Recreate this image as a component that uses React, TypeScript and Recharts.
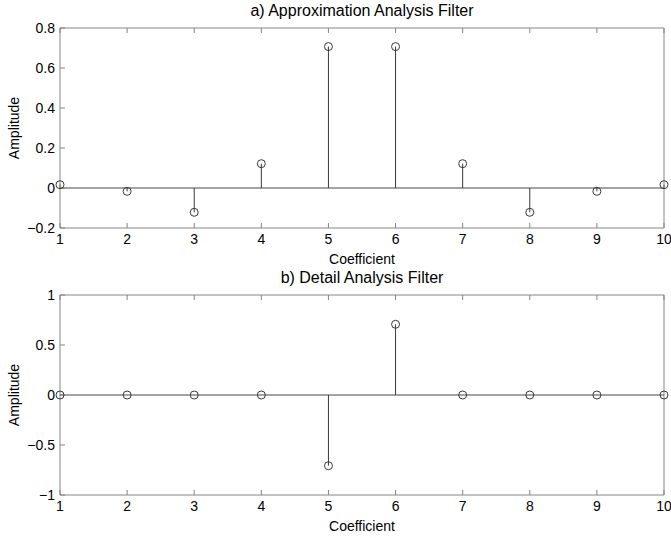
import { ComposedChart, Scatter, XAxis, YAxis, ReferenceLine, Label } from "recharts"

// filter taps (bior1.5 decomposition filters)
const coefficients = [1, 2, 3, 4, 5, 6, 7, 8, 9, 10]
const approxValues = [0.0166, -0.0166, -0.1215, 0.1215, 0.7071, 0.7071, 0.1215, -0.1215, -0.0166, 0.0166]
const detailValues = [0, 0, 0, 0, -0.7071, 0.7071, 0, 0, 0, 0]
const approxTicks = [-0.2, 0, 0.2, 0.4, 0.6, 0.8]
const detailTicks = [-1, -0.5, 0, 0.5, 1]

const AXIS = "#858585"
const STEM = "#3a3a3a"
const FONT = "'Liberation Sans', Arial, sans-serif"

const fmt = (v: number) => (v < 0 ? "\u2212" + Math.abs(v) : String(v))
const blank = () => ""

interface StemPlotProps {
  title: string
  values: number[]
  ticks: number[]
  height: number
  top: number
  bottom: number
}

const Circle = (props: any) => {
  const { cx, cy } = props
  if (cx == null || cy == null) return null
  return <circle cx={cx} cy={cy} r={4} fill="none" stroke={STEM} strokeWidth={1} />
}

function StemPlot({ title, values, ticks, height, top, bottom }: StemPlotProps) {
  const data = coefficients.map((x, i) => ({ x, y: values[i] }))
  const domain = [ticks[0], ticks[ticks.length - 1]]
  const tickStyle = { fill: "#000", fontSize: 14, fontFamily: FONT }

  return (
    <ComposedChart
      width={671}
      height={height}
      data={data}
      margin={{ top: top - 1, right: 6, bottom, left: 0 }}
    >
      <XAxis
        dataKey="x"
        type="number"
        domain={[1, 10]}
        ticks={coefficients}
        interval={0}
        height={20}
        stroke={AXIS}
        tickSize={-5}
        tickMargin={11}
        tick={tickStyle}
      >
        <Label value="Coefficient" position="bottom" offset={6} style={{ fill: "#000", fontSize: 14, fontFamily: FONT }} />
      </XAxis>
      <XAxis
        xAxisId="top"
        orientation="top"
        dataKey="x"
        type="number"
        domain={[1, 10]}
        ticks={coefficients}
        interval={0}
        height={1}
        stroke={AXIS}
        tickSize={-5}
        tickFormatter={blank}
      >
        <Label value={title} position="top" offset={11} style={{ fill: "#000", fontSize: 16, fontFamily: FONT }} />
      </XAxis>
      <YAxis
        type="number"
        domain={domain}
        ticks={ticks}
        interval={0}
        width={60}
        stroke={AXIS}
        tickSize={-5}
        tickMargin={10}
        tickFormatter={fmt}
        tick={tickStyle}
      >
        <Label
          value="Amplitude"
          angle={-90}
          position="insideLeft"
          offset={14}
          style={{ textAnchor: "middle", fill: "#000", fontSize: 14, fontFamily: FONT }}
        />
      </YAxis>
      <YAxis
        yAxisId="r"
        orientation="right"
        type="number"
        domain={domain}
        ticks={ticks}
        interval={0}
        width={1}
        stroke={AXIS}
        tickSize={-5}
        tickFormatter={blank}
      />
      <ReferenceLine y={0} stroke={AXIS} strokeWidth={1.5} />
      {data.map((d) => (
        <ReferenceLine
          key={d.x}
          segment={[{ x: d.x, y: 0 }, { x: d.x, y: d.y }]}
          stroke={STEM}
          strokeWidth={1}
        />
      ))}
      <Scatter dataKey="y" shape={<Circle />} isAnimationActive={false} />
    </ComposedChart>
  )
}

export default function App() {
  return (
    <div style={{ position: "absolute", left: 0, top: 0, width: 671, height: 538, background: "#fff" }}>
      <StemPlot
        title="a) Approximation Analysis Filter"
        values={approxValues}
        ticks={approxTicks}
        height={268}
        top={28}
        bottom={20}
      />
      <StemPlot
        title="b) Detail Analysis Filter"
        values={detailValues}
        ticks={detailTicks}
        height={270}
        top={27}
        bottom={23}
      />
    </div>
  )
}
